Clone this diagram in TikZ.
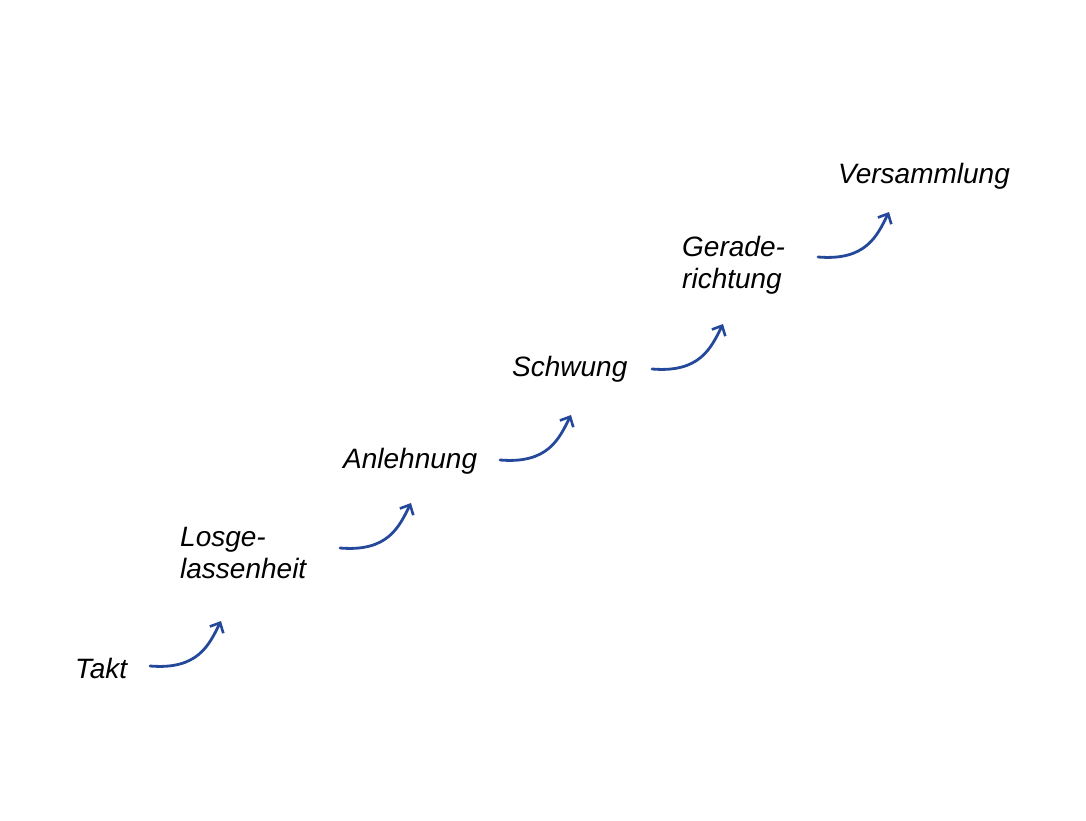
\documentclass[tikz,border=0pt]{standalone}
\usepackage{fontspec}
\setmainfont{Liberation Sans}
\usetikzlibrary{arrows.meta}
\definecolor{arrowblue}{HTML}{24489A}
\begin{document}
\begin{tikzpicture}[x=1pt,y=-1pt,
  lbl/.style={font=\fontsize{28}{31.5}\selectfont\itshape, inner sep=0pt, anchor=base west, align=left},
  stepArrow/.style={draw=arrowblue, line width=2.8pt, line cap=round, -{Straight Barb[length=8pt,width=15pt,line width=2.6pt]}}]
\useasboundingbox (0,0) rectangle (1086,821);
\node[lbl] (takt) at (75,678) {Takt};
\node[lbl] (losge) at (180,578) {Losge-\\lassenheit};
\node[lbl] (anl) at (343,468) {Anlehnung};
\node[lbl] (schw) at (512,376) {Schwung};
\node[lbl] (ger) at (682,288) {Gerade-\\richtung};
\node[lbl] (vers) at (838,183) {Versammlung};
\foreach \n/\sx/\sy in {a/150/666, b/340/548, c/500/460, d/652/369, e/818/257}{
  \coordinate (s\n) at (\sx,\sy);
  \coordinate (e\n) at (\sx+71,\sy-45);
  \draw[stepArrow] (s\n) .. controls ++(48,4) and ++(-12,24) .. (e\n);
}
\end{tikzpicture}
\end{document}
